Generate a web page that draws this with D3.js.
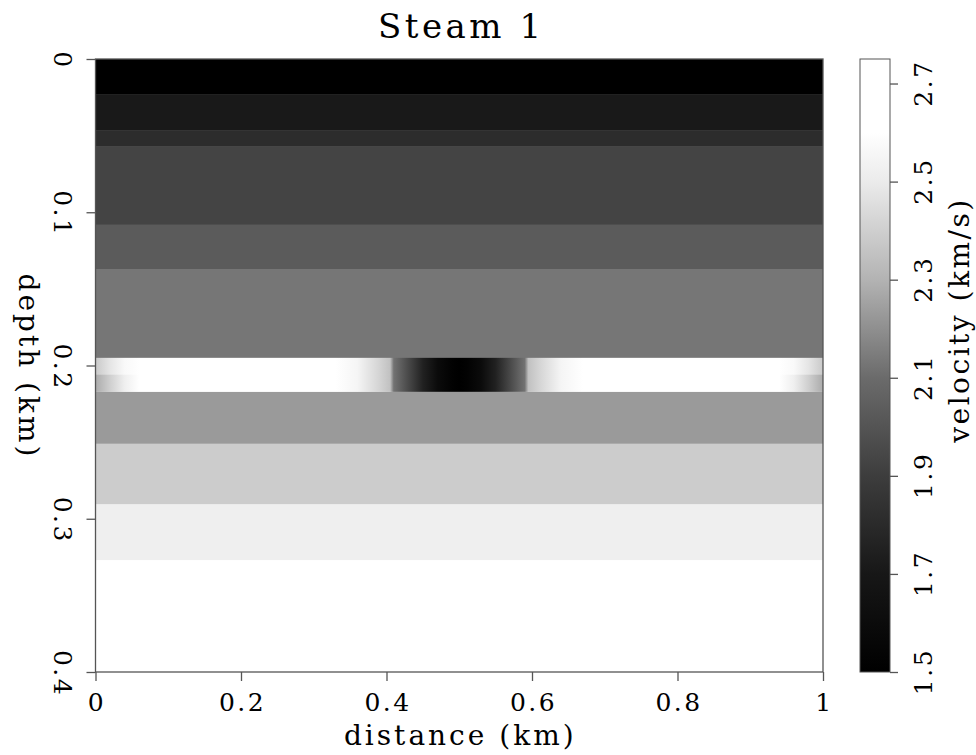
<!doctype html>
<html>
<head>
	<meta charset="utf-8">
	<title>Steam 1</title>
	<script src="https://d3js.org/d3.v7.min.js"></script>
	<style>
	body { margin: 0; background: #fff; }
	svg text { font-family: "DejaVu Serif", serif; fill: #000; }
	.axis path, .axis line { stroke: #555; stroke-width: 1.3px; }
	</style>
</head>
<body>
<script>

// layer boundaries (km) and layer velocities (km/s); the steam layer sits in slot 6
var layerDepths = [0, 0.023, 0.0465, 0.057, 0.108, 0.137, 0.195, 0.217, 0.251, 0.2905, 0.327, 0.4];
var layerVel = [1.5, 1.71, 1.81, 1.93, 2.03, 2.13, null, 2.23, 2.39, 2.52, 2.7];

// steam layer, sampled along distance, upper and lower halves
var steamDepths = [0.195, 0.206, 0.217];
var steamX = [0, 0.02, 0.04, 0.06, 0.08, 0.10, 0.30, 0.33, 0.36, 0.39, 0.405, 0.41, 0.43, 0.45, 0.47, 0.49, 0.50,
	0.51, 0.53, 0.55, 0.57, 0.59, 0.595, 0.61, 0.64, 0.67, 0.70, 0.90, 0.92, 0.94, 0.96, 0.98, 1.00];
var steamTop = [2.38, 2.48, 2.57, 2.63, 2.68, 2.70, 2.70, 2.65, 2.55, 2.42, 2.35, 2.12, 1.95, 1.75, 1.60, 1.52, 1.50,
	1.52, 1.60, 1.75, 1.95, 2.12, 2.35, 2.42, 2.55, 2.65, 2.70, 2.70, 2.68, 2.63, 2.57, 2.48, 2.38];
var steamBottom = [2.28, 2.40, 2.52, 2.60, 2.66, 2.70, 2.70, 2.65, 2.55, 2.42, 2.35, 2.12, 1.95, 1.75, 1.60, 1.52, 1.50,
	1.52, 1.60, 1.75, 1.95, 2.12, 2.35, 2.42, 2.55, 2.65, 2.70, 2.70, 2.66, 2.60, 2.52, 2.40, 2.28];

// tick labels
var xTicks = [0, 0.2, 0.4, 0.6, 0.8, 1];
var yTicks = [0, 0.1, 0.2, 0.3, 0.4];
var cTicks = [1.5, 1.7, 1.9, 2.1, 2.3, 2.5, 2.7];

// gray colormap
var cmapVel = [1.5, 1.7, 1.9, 2.1, 2.3, 2.5, 2.6, 2.75];
var cmapGray = [0, 0.09, 0.24, 0.42, 0.70, 0.92, 1, 1];

var svg = d3.select("body").append("svg")
	.attr("width", 976)
	.attr("height", 755);

var x = d3.scaleLinear().domain([0, 1]).range([95.5, 823]);
var y = d3.scaleLinear().domain([0, 0.4]).range([59, 672]);
var c = d3.scaleLinear().domain([1.5, 2.75]).range([672, 59]);

var grayScale = d3.scaleLinear().domain(cmapVel).range(cmapGray).clamp(true);
function color(v) {
	var g = Math.round(grayScale(v) * 255);
	return d3.rgb(g, g, g).toString();
}

var defs = svg.append("defs");

// flat layers
var layers = layerVel.map(function(v, i) {
	return { v: v, top: layerDepths[i], bot: layerDepths[i + 1] };
}).filter(function(d) { return d.v !== null; });

svg.append("g").selectAll("rect")
	.data(layers)
	.enter().append("rect")
	.attr("x", x(0))
	.attr("width", x(1) - x(0))
	.attr("y", function(d) { return y(d.top); })
	.attr("height", function(d) { return y(d.bot) - y(d.top) + 0.5; })
	.attr("fill", function(d) { return color(d.v); });

// steam layer as horizontal gradients
[steamTop, steamBottom].forEach(function(vals, k) {
	var grad = defs.append("linearGradient")
		.attr("id", "steam" + k)
		.attr("x1", "0").attr("x2", "1").attr("y1", "0").attr("y2", "0");
	grad.selectAll("stop")
		.data(vals)
		.enter().append("stop")
		.attr("offset", function(d, i) { return (x(steamX[i]) - x(0)) / (x(1) - x(0)); })
		.attr("stop-color", function(d) { return color(d); });

	svg.append("rect")
		.attr("x", x(0))
		.attr("width", x(1) - x(0))
		.attr("y", y(steamDepths[k]))
		.attr("height", y(steamDepths[k + 1]) - y(steamDepths[k]) + 0.3)
		.attr("fill", "url(#steam" + k + ")");
});

// frame
svg.append("rect")
	.attr("x", x(0)).attr("y", y(0))
	.attr("width", x(1) - x(0)).attr("height", y(0.4) - y(0))
	.attr("fill", "none").attr("stroke", "#555").attr("stroke-width", 1.3);

// x axis
var xAxis = svg.append("g")
	.attr("class", "axis")
	.attr("transform", "translate(0," + y(0.4) + ")")
	.call(d3.axisBottom(x).tickValues(xTicks).tickSize(9).tickSizeOuter(0).tickFormat(d3.format("")));
xAxis.selectAll("text")
	.attr("y", 0).attr("dy", 0)
	.attr("transform", "translate(1,39)")
	.attr("font-size", 25)
	.attr("letter-spacing", 2.5);
xAxis.select(".domain").remove();

// y axis, labels read downwards
var yAxis = svg.append("g")
	.attr("class", "axis")
	.attr("transform", "translate(" + x(0) + ",0)")
	.call(d3.axisLeft(y).tickValues(yTicks).tickSize(9).tickSizeOuter(0).tickFormat(d3.format("")));
yAxis.selectAll("text")
	.attr("x", 0).attr("dy", 0)
	.attr("text-anchor", "middle")
	.attr("transform", "translate(-42,1) rotate(90)")
	.attr("font-size", 25)
	.attr("letter-spacing", 2.5);
yAxis.select(".domain").remove();

// colour bar
var cbX = 860, cbW = 30;
var cgrad = defs.append("linearGradient")
	.attr("id", "cbar")
	.attr("x1", "0").attr("x2", "0").attr("y1", "1").attr("y2", "0");
cgrad.selectAll("stop")
	.data(cmapVel)
	.enter().append("stop")
	.attr("offset", function(d) { return (c(1.5) - c(d)) / (c(1.5) - c(2.75)); })
	.attr("stop-color", function(d) { return color(d); });

svg.append("rect")
	.attr("x", cbX).attr("y", c(2.75))
	.attr("width", cbW).attr("height", c(1.5) - c(2.75))
	.attr("fill", "url(#cbar)")
	.attr("stroke", "#555").attr("stroke-width", 1);

// colour bar labels read upwards
var cAxis = svg.append("g")
	.attr("class", "axis")
	.attr("transform", "translate(" + (cbX + cbW) + ",0)")
	.call(d3.axisRight(c).tickValues(cTicks).tickSize(8).tickSizeOuter(0).tickFormat(d3.format(".1f")));
cAxis.selectAll("text")
	.attr("x", 0).attr("dy", 0)
	.attr("text-anchor", "middle")
	.attr("transform", "translate(42,-1) rotate(-90)")
	.attr("font-size", 25)
	.attr("letter-spacing", 2.5);
cAxis.select(".domain").remove();

// titles
svg.append("text")
	.attr("x", (x(0) + x(1)) / 2 + 2)
	.attr("y", 38)
	.attr("text-anchor", "middle")
	.attr("font-size", 34)
	.attr("letter-spacing", 3.5)
	.text("Steam 1");

svg.append("text")
	.attr("x", (x(0) + x(1)) / 2 + 1)
	.attr("y", 745)
	.attr("text-anchor", "middle")
	.attr("font-size", 28)
	.attr("letter-spacing", 3)
	.text("distance (km)");

svg.append("text")
	.attr("transform", "translate(19," + ((y(0) + y(0.4)) / 2 + 1) + ") rotate(90)")
	.attr("text-anchor", "middle")
	.attr("font-size", 28)
	.attr("letter-spacing", 3)
	.text("depth (km)");

svg.append("text")
	.attr("transform", "translate(969,320) rotate(-90)")
	.attr("text-anchor", "middle")
	.attr("font-size", 28)
	.attr("letter-spacing", 2.5)
	.text("velocity (km/s)");

</script>
</body>
</html>
